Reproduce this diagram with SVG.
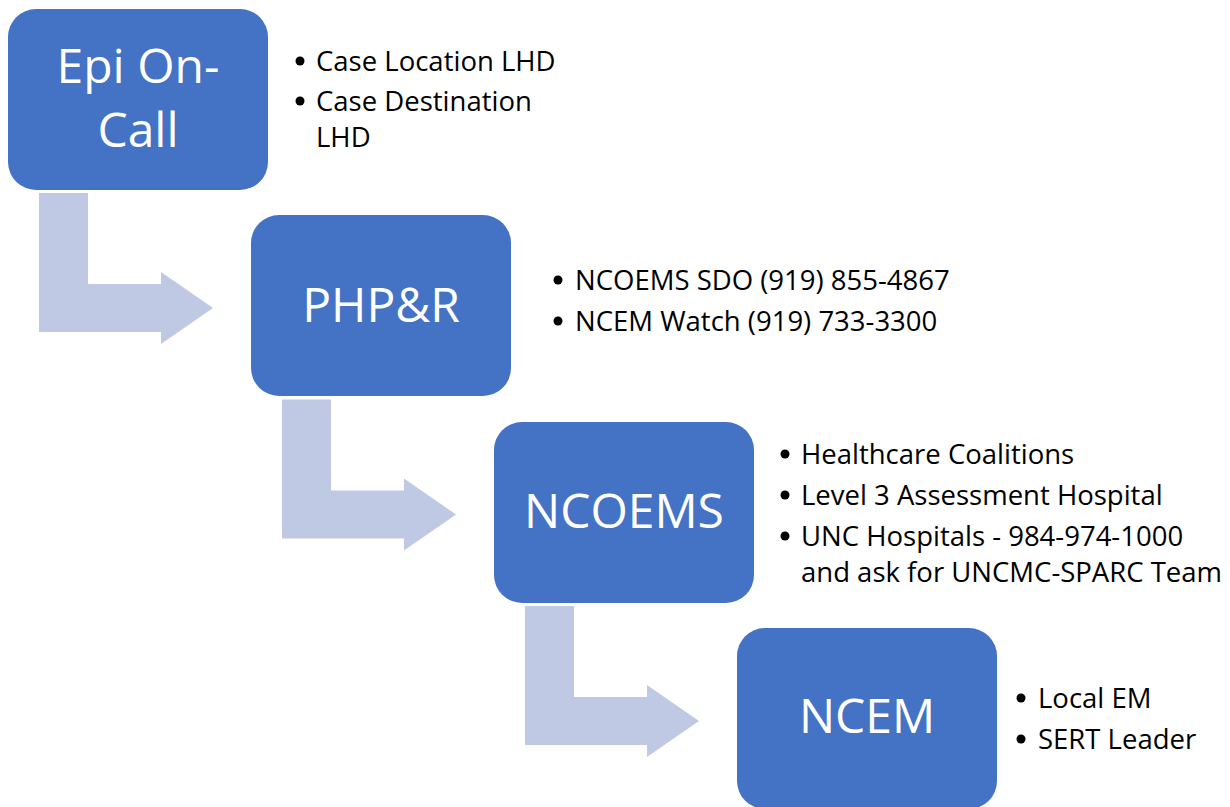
<svg xmlns="http://www.w3.org/2000/svg" xmlns:xlink="http://www.w3.org/1999/xlink" width="1230" height="807" viewBox="0 0 1230 807">
  <style>
    .box { fill: #4472C4; }
    .step { fill: #BFC9E3; }
    .dot { fill: #000000; }
    .title { font-family: "Open Sans", "Liberation Sans", sans-serif; font-size: 48px; fill: #FFFFFF; text-anchor: middle; }
    .item { font-family: "Open Sans", "Liberation Sans", sans-serif; font-size: 27.5px; fill: #000000; }
  </style>
  <defs>
    <!-- bent step arrow: down then right -->
    <path id="bent-arrow" d="M39,193 H88 V284 H161 V272 L213,308 L161,344 V332 H39 Z"/>
  </defs>
  <rect width="1230" height="807" fill="#FFFFFF"/>

  <g id="connectors">
    <use xlink:href="#bent-arrow" class="step"/>
    <use xlink:href="#bent-arrow" class="step" transform="translate(243,206.5)"/>
    <use xlink:href="#bent-arrow" class="step" transform="translate(486,413)"/>
  </g>

  <g id="epi-on-call">
    <rect class="box" x="8" y="9" width="260" height="181" rx="28"/>
    <text class="title" x="138" y="83">Epi On-</text>
    <text class="title" x="138" y="147">Call</text>
    <circle class="dot" cx="300" cy="61" r="4.5"/>
    <text class="item" x="316" y="71">Case Location LHD</text>
    <circle class="dot" cx="300" cy="101" r="4.5"/>
    <text class="item" x="316" y="111">Case Destination</text>
    <text class="item" x="316" y="147">LHD</text>
  </g>

  <g id="php-r">
    <rect class="box" x="251" y="215" width="260" height="181" rx="28"/>
    <text class="title" x="381" y="322">PHP&amp;R</text>
    <circle class="dot" cx="558" cy="280" r="4.5"/>
    <text class="item" x="575" y="290">NCOEMS SDO (919) 855-4867</text>
    <circle class="dot" cx="558" cy="321" r="4.5"/>
    <text class="item" x="575" y="331">NCEM Watch (919) 733-3300</text>
  </g>

  <g id="ncoems">
    <rect class="box" x="494" y="422" width="260" height="181" rx="28"/>
    <text class="title" x="624" y="528">NCOEMS</text>
    <circle class="dot" cx="785" cy="454" r="4.5"/>
    <text class="item" x="801" y="464">Healthcare Coalitions</text>
    <circle class="dot" cx="785" cy="495" r="4.5"/>
    <text class="item" x="801" y="505">Level 3 Assessment Hospital</text>
    <circle class="dot" cx="785" cy="536" r="4.5"/>
    <text class="item" x="801" y="546">UNC Hospitals - 984-974-1000</text>
    <text class="item" x="801" y="582">and ask for UNCMC-SPARC Team</text>
  </g>

  <g id="ncem">
    <rect class="box" x="737" y="628" width="260" height="181" rx="28"/>
    <text class="title" x="867" y="733">NCEM</text>
    <circle class="dot" cx="1021" cy="698" r="4.5"/>
    <text class="item" x="1038" y="708">Local EM</text>
    <circle class="dot" cx="1021" cy="739" r="4.5"/>
    <text class="item" x="1038" y="749">SERT Leader</text>
  </g>
</svg>
